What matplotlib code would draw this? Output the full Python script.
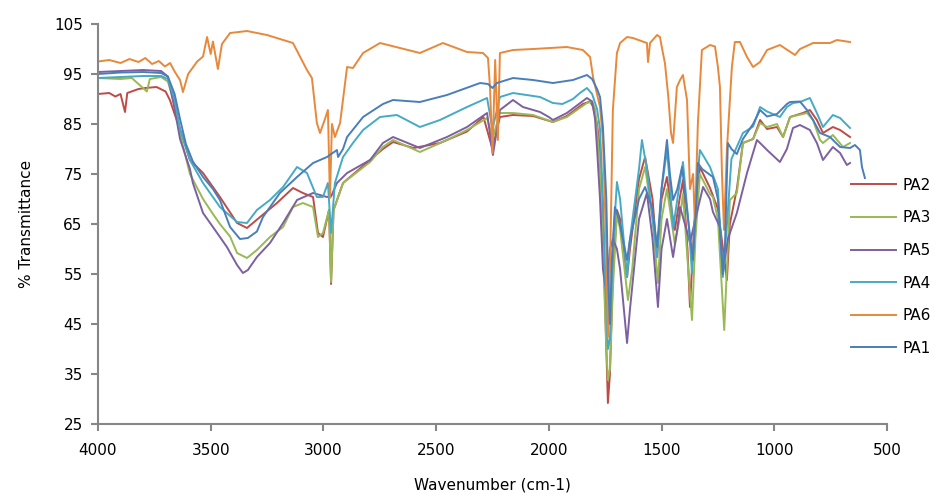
import matplotlib.pyplot as plt

# spectra: wavenumber (cm-1) and % transmittance
pa2_wn = [4000, 3950, 3923, 3900, 3880, 3870, 3820, 3790, 3740, 3700, 3681, 3660, 3636, 3592, 3534, 3459, 3383, 3339, 3281, 3206,
          3135, 3091, 3046, 3024, 3002, 2975, 2966, 2955, 2913, 2793, 2736, 2691, 2600, 2483, 2363, 2290, 2250, 2217, 2159, 2070,
          1982, 1920, 1849, 1817, 1804, 1786, 1773, 1760, 1745, 1738, 1729, 1716, 1698, 1684, 1653, 1640, 1600, 1573, 1540, 1520,
          1500, 1476, 1463, 1441, 1420, 1405, 1385, 1374, 1355, 1330, 1285, 1250, 1210, 1197, 1166, 1139, 1094, 1063, 1032, 988,
          961, 930, 873, 842, 811, 784, 740, 708, 664]
pa2_t = [91.0, 91.2, 90.5, 91.0, 87.4, 91.2, 92.0, 92.2, 92.4, 91.5, 89.8, 87.0, 84.0, 77.8, 75.2, 70.4, 65.2, 64.2, 66.4, 69.2,
         72.2, 71.2, 70.4, 63.2, 62.4, 67.8, 53.0, 67.8, 73.2, 77.8, 80.0, 81.4, 80.2, 81.2, 83.5, 86.4, 80.0, 86.4, 86.8, 86.6,
         85.4, 86.6, 89.0, 89.5, 88.5, 85.0, 80.0, 65.0, 40.0, 29.2, 35.0, 55.0, 67.8, 66.0, 54.4, 60.0, 74.0, 78.4, 70.0, 58.4,
         70.0, 74.4, 70.0, 63.8, 70.0, 73.8, 60.0, 48.4, 65.0, 76.4, 72.2, 68.0, 53.8, 65.0, 72.0, 81.2, 82.0, 85.8, 84.0, 84.4,
         82.4, 86.4, 87.2, 87.8, 85.8, 83.2, 84.4, 83.8, 82.4]

pa3_wn = [4000, 3900, 3850, 3783, 3770, 3720, 3690, 3660, 3636, 3592, 3534, 3490, 3459, 3414, 3383, 3339, 3295, 3237, 3179, 3135,
          3091, 3046, 3024, 3002, 2975, 2966, 2955, 2913, 2793, 2736, 2691, 2572, 2452, 2363, 2274, 2250, 2217, 2159, 2070, 1982,
          1920, 1831, 1808, 1795, 1786, 1773, 1760, 1745, 1738, 1729, 1716, 1698, 1684, 1649, 1630, 1600, 1573, 1540, 1516, 1500,
          1476, 1463, 1441, 1420, 1405, 1385, 1365, 1350, 1330, 1285, 1272, 1250, 1222, 1197, 1166, 1139, 1094, 1063, 1032, 988,
          961, 930, 855, 828, 797, 784, 740, 695, 664]
pa3_t = [94.2, 94.0, 94.2, 91.5, 94.0, 94.4, 93.5, 89.0, 83.0, 75.0, 70.0, 67.0, 65.0, 62.5, 59.2, 58.2, 59.8, 62.4, 64.4, 68.4,
         69.2, 68.4, 62.4, 63.2, 67.8, 53.4, 67.8, 73.2, 77.4, 80.4, 81.8, 79.4, 81.8, 83.8, 86.2, 82.0, 87.2, 87.2, 86.8, 85.4,
         86.4, 89.2, 89.5, 88.0, 84.0, 76.0, 60.0, 40.0, 33.8, 36.0, 52.0, 67.0, 64.0, 49.8, 56.0, 72.0, 76.4, 66.0, 53.2, 66.0,
         72.0, 68.0, 61.0, 66.0, 71.0, 58.0, 45.8, 62.0, 75.0, 71.0, 70.4, 66.0, 43.8, 69.8, 71.2, 81.2, 82.0, 85.2, 84.4, 85.0,
         82.4, 86.4, 87.2, 85.8, 81.8, 81.2, 82.8, 80.4, 81.2]

pa5_wn = [4000, 3900, 3800, 3720, 3690, 3660, 3636, 3592, 3579, 3534, 3490, 3428, 3383, 3357, 3335, 3295, 3237, 3179, 3117, 3046,
          2984, 2966, 2940, 2895, 2793, 2736, 2691, 2572, 2452, 2363, 2274, 2248, 2217, 2159, 2115, 2039, 2000, 1982, 1920, 1831,
          1808, 1795, 1786, 1773, 1760, 1745, 1738, 1729, 1716, 1698, 1684, 1653, 1640, 1600, 1565, 1540, 1516, 1500, 1476, 1449,
          1430, 1418, 1390, 1374, 1350, 1316, 1285, 1272, 1241, 1228, 1206, 1166, 1121, 1077, 1063, 1032, 975, 944, 917, 886,
          842, 811, 784, 740, 708, 678, 664]
pa5_t = [95.4, 95.6, 95.8, 95.6, 94.5, 88.0, 82.0, 76.0, 73.2, 67.2, 64.4, 60.4, 56.8, 55.2, 55.8, 58.4, 61.2, 65.2, 69.8, 71.2,
         70.4, 70.5, 73.2, 75.2, 77.8, 81.2, 82.4, 80.2, 82.4, 84.4, 87.2, 78.8, 87.8, 89.8, 88.4, 87.4, 86.4, 85.8, 87.2, 90.2,
         89.5, 86.0, 80.0, 70.0, 56.0, 51.2, 55.0, 60.0, 62.0, 60.0, 56.0, 41.2, 48.0, 66.0, 71.2, 62.0, 48.4, 60.0, 66.0, 58.4,
         64.0, 68.4, 64.0, 61.2, 66.0, 72.4, 70.0, 67.4, 64.4, 55.2, 62.0, 67.2, 75.2, 81.8, 81.2, 79.8, 77.4, 80.0, 84.2, 84.8,
         83.8, 81.2, 77.8, 80.4, 79.2, 76.8, 77.2]

pa4_wn = [4000, 3900, 3800, 3720, 3690, 3660, 3636, 3592, 3534, 3459, 3383, 3339, 3295, 3237, 3179, 3117, 3073, 3029, 3002, 2980,
          2966, 2949, 2913, 2869, 2824, 2749, 2674, 2572, 2483, 2363, 2274, 2250, 2217, 2159, 2039, 1982, 1940, 1893, 1862, 1831,
          1808, 1786, 1773, 1760, 1745, 1738, 1729, 1716, 1698, 1684, 1653, 1640, 1600, 1587, 1565, 1520, 1500, 1476, 1463, 1449,
          1430, 1405, 1380, 1365, 1345, 1330, 1285, 1250, 1228, 1210, 1190, 1139, 1094, 1063, 1032, 975, 944, 917, 886, 842,
          811, 784, 740, 708, 664]
pa4_t = [94.2, 94.4, 94.6, 94.6, 94.0, 90.0, 84.0, 77.8, 73.2, 68.4, 65.4, 65.2, 67.8, 69.8, 72.4, 76.4, 75.2, 70.4, 70.4, 73.2,
         63.2, 73.2, 78.4, 81.2, 83.8, 86.4, 86.8, 84.4, 85.8, 88.4, 90.2, 84.0, 90.4, 91.2, 90.4, 89.2, 89.0, 90.0, 91.2, 92.2,
         91.0, 88.0, 84.0, 70.0, 48.0, 40.0, 42.0, 60.0, 73.4, 70.0, 54.4, 62.0, 76.0, 81.8, 76.0, 58.4, 72.0, 79.8, 73.0, 64.0,
         70.0, 77.4, 65.0, 55.2, 72.0, 79.8, 76.4, 72.0, 54.4, 65.0, 78.0, 83.2, 84.5, 88.4, 87.5, 86.4, 88.4, 89.2, 89.4, 90.2,
         87.2, 84.4, 86.8, 86.2, 84.2]

pa6_wn = [4000, 3950, 3900, 3860, 3820, 3790, 3760, 3730, 3703, 3680, 3660, 3636, 3623, 3600, 3560, 3534, 3516, 3500, 3490, 3468,
          3450, 3414, 3339, 3250, 3135, 3073, 3051, 3029, 3015, 2993, 2980, 2971, 2962, 2949, 2926, 2895, 2869, 2824, 2749, 2660,
          2572, 2470, 2363, 2292, 2270, 2261, 2250, 2238, 2226, 2217, 2159, 2070, 1920, 1849, 1817, 1804, 1773, 1760, 1745, 1738,
          1729, 1716, 1698, 1684, 1653, 1627, 1565, 1560, 1551, 1520, 1507, 1494, 1485, 1470, 1458, 1449, 1432, 1418, 1405, 1387,
          1374, 1360, 1352, 1339, 1321, 1285, 1263, 1250, 1241, 1232, 1223, 1210, 1188, 1175, 1152, 1121, 1094, 1063, 1032, 975,
          908, 886, 828, 753, 722, 664]
pa6_t = [97.5, 97.8, 97.2, 98.0, 97.4, 98.2, 97.0, 97.6, 96.5, 97.2, 95.5, 93.8, 91.4, 95.0, 97.5, 98.5, 102.4, 99.0, 101.5, 96.0,
         101.0, 103.2, 103.6, 102.8, 101.2, 95.8, 94.2, 85.2, 83.2, 86.0, 87.8, 70.2, 85.0, 82.4, 85.2, 96.4, 96.2, 99.2, 101.2, 100.2,
         99.2, 101.2, 99.4, 99.2, 98.2, 92.4, 79.2, 97.8, 81.8, 99.2, 99.8, 100.0, 100.4, 99.8, 98.4, 94.4, 88.4, 81.8, 60.0, 42.4,
         55.0, 87.8, 99.2, 101.2, 102.4, 102.2, 101.2, 97.4, 101.2, 102.8, 102.4, 99.2, 97.2, 90.4, 83.2, 81.2, 92.4, 93.8, 94.8, 89.8,
         72.0, 75.0, 64.8, 85.0, 99.8, 100.8, 100.5, 96.4, 92.4, 75.0, 63.8, 80.0, 96.4, 101.4, 101.4, 98.4, 96.4, 97.4, 99.8, 100.8,
         98.8, 100.0, 101.2, 101.2, 101.8, 101.4]

pa1_wn = [4000, 3900, 3800, 3720, 3690, 3660, 3636, 3610, 3579, 3534, 3490, 3459, 3414, 3370, 3335, 3295, 3268, 3193, 3117, 3046,
          2984, 2940, 2935, 2913, 2895, 2824, 2736, 2691, 2572, 2452, 2305, 2270, 2250, 2230, 2159, 2070, 1982, 1893, 1831, 1808,
          1786, 1773, 1760, 1745, 1738, 1729, 1720, 1707, 1690, 1653, 1640, 1600, 1573, 1540, 1520, 1500, 1476, 1463, 1449, 1430,
          1409, 1380, 1361, 1345, 1339, 1320, 1272, 1250, 1228, 1219, 1206, 1190, 1166, 1139, 1094, 1063, 1032, 988, 944, 930,
          886, 855, 828, 797, 753, 708, 664, 642, 620, 611, 598]
pa1_t = [95.0, 95.3, 95.4, 95.2, 94.5, 91.0, 86.0, 81.0, 77.5, 74.4, 72.0, 69.8, 64.4, 62.0, 62.2, 63.5, 66.4, 71.2, 74.4, 77.2,
         78.4, 79.8, 78.4, 80.0, 82.4, 86.4, 89.0, 89.8, 89.4, 90.8, 93.2, 93.0, 92.2, 93.2, 94.2, 93.8, 93.2, 93.8, 94.8, 94.0,
         92.0, 90.4, 84.4, 70.0, 55.0, 45.0, 58.0, 68.4, 66.0, 57.8, 62.0, 70.0, 72.4, 68.0, 60.4, 72.0, 81.8, 75.0, 69.8, 72.0,
         76.4, 65.0, 57.8, 70.0, 77.2, 76.0, 74.4, 70.0, 55.0, 60.0, 81.2, 80.0, 79.0, 82.0, 85.0, 87.8, 86.5, 87.0, 89.0, 89.4,
         89.5, 87.8, 85.8, 83.2, 82.4, 80.4, 80.2, 80.8, 79.8, 76.4, 74.2]

series = [
    ("PA2", pa2_wn, pa2_t, "#BE4B48"),
    ("PA3", pa3_wn, pa3_t, "#98B954"),
    ("PA5", pa5_wn, pa5_t, "#7D60A0"),
    ("PA4", pa4_wn, pa4_t, "#46AAC5"),
    ("PA6", pa6_wn, pa6_t, "#E8883A"),
    ("PA1", pa1_wn, pa1_t, "#4A7EBB"),
]

fig = plt.figure(figsize=(9.42, 4.94), dpi=100)
ax = fig.add_axes([0.104, 0.1417, 0.8376, 0.8097])

for name, wn, t, col in series:
    ax.plot(wn, t, color=col, lw=1.4, label=name)

ax.set_xlim(4000, 500)
ax.set_ylim(25, 105)
ax.set_xticks([4000, 3500, 3000, 2500, 2000, 1500, 1000, 500])
ax.set_yticks(range(25, 106, 10))

grey = "#868686"
for s in ["top", "right"]:
    ax.spines[s].set_visible(False)
for s in ["left", "bottom"]:
    ax.spines[s].set_color(grey)
    ax.spines[s].set_linewidth(1.5)
ax.tick_params(axis="both", direction="out", length=5, width=1.5, color=grey,
               labelsize=11, labelcolor="black", pad=6)
ax.tick_params(axis="x", pad=9)

ax.set_xlabel("Wavenumber (cm-1)", fontsize=11, labelpad=14)
ax.set_ylabel("% Transmittance", fontsize=11, labelpad=14)

fig.legend(loc="upper left", bbox_to_anchor=(0.903, 0.64), bbox_transform=fig.transFigure,
           frameon=False, fontsize=11, handlelength=3.0, handletextpad=0.4,
           labelspacing=1.15, borderpad=0, borderaxespad=0)

fig.savefig("out.png", dpi=100)
